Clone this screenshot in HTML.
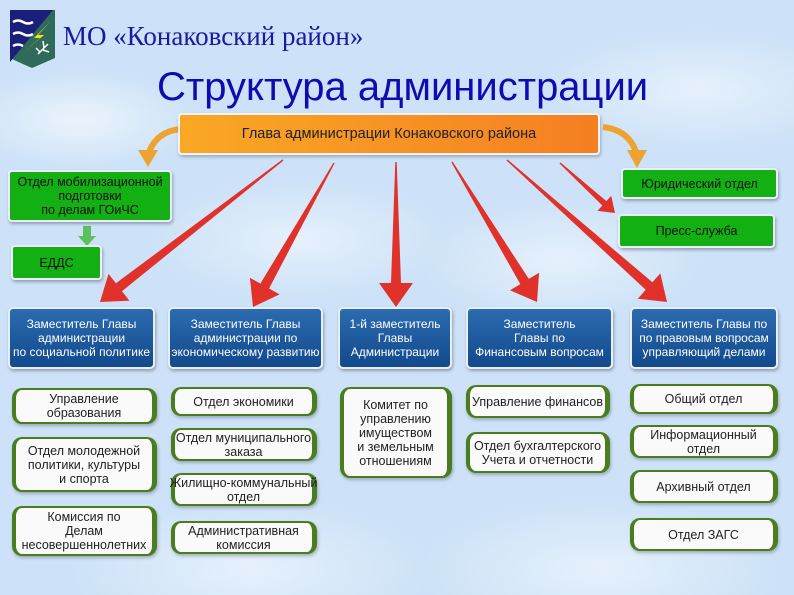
<!DOCTYPE html>
<html><head><meta charset="utf-8"><style>
html,body{margin:0;padding:0}
body{width:794px;height:595px;overflow:hidden;position:relative;font-family:"Liberation Sans",sans-serif;
background:
radial-gradient(ellipse 120px 50px at 80px 120px,rgba(255,255,255,.6),transparent),
radial-gradient(ellipse 150px 60px at 300px 240px,rgba(255,255,255,.5),transparent),
radial-gradient(ellipse 140px 60px at 560px 260px,rgba(255,255,255,.5),transparent),
radial-gradient(ellipse 160px 60px at 700px 90px,rgba(255,255,255,.5),transparent),
radial-gradient(ellipse 180px 70px at 250px 570px,rgba(255,255,255,.5),transparent),
radial-gradient(ellipse 180px 70px at 600px 570px,rgba(255,255,255,.5),transparent),
#cde2f8}
.b{position:absolute;box-sizing:border-box;display:flex;align-items:center;justify-content:center;text-align:center;font-size:12.5px;line-height:14px;white-space:nowrap}
.blue{background:linear-gradient(#2c6bb0,#124a8c);color:#fff;border:2px solid #e8eef6;border-radius:5px;box-shadow:1px 2px 3px rgba(0,0,0,.3);font-size:12px}
.w{background:#fafafa;color:#222;border:2px solid #4a7d1e;border-left-width:4px;border-right-width:5px;border-radius:10px;box-shadow:1px 2px 3px rgba(0,0,0,.25)}
.g{background:#12b012;color:#111;border:2px solid #eef;border-radius:4px;box-shadow:1px 2px 3px rgba(0,0,0,.3);font-size:12.5px}
</style></head><body>
<svg width="794" height="595" style="position:absolute;left:0;top:0">
<g transform="translate(10,10)">
<path d="M0 0H45V48Q36 52 22 58Q8 52 0 48Z" fill="#2f6a5a"/>
<path d="M0 0H43L0 52Z" fill="#1a1f7a"/>
<path d="M3 12q5-3 10 0t10 0 M3 24q5-3 10 0t10 0 M3 36q5-3 10 0" stroke="#fff" stroke-width="2.5" fill="none"/>
<path d="M40 12L24 28 30 28 14 42 34 25 28 25Z" fill="#f2e21a"/>
<path d="M28 44l10-10M33 40l6 2M34 38l-1-7M30 42l-4-4" stroke="#fff" stroke-width="1.5"/>
</g>
<text x="63" y="45" font-family="Liberation Serif,serif" font-size="27" fill="#1a1a9e">МО «Конаковский район»</text>
<text x="157" y="100" font-family="Liberation Sans,sans-serif" font-size="40" fill="#0c0cb0">Структура администрации</text>
<g fill="none" stroke="#eda330" stroke-width="6">
<path d="M180 129Q155 132 148 155"/><path d="M603 127Q630 130 637 155"/>
</g>
<path d="M138 150L158 150 148 167Z" fill="#eda330"/><path d="M627 150L647 150 637 168Z" fill="#eda330"/>
<path d="M83 226h8v10h5l-9 10-9-10h5z" fill="#5cc05c"/>
<g id="arr" fill="#e0322a"></g>
</svg>
<div class="b" style="left:178px;top:113px;width:422px;height:42px;background:linear-gradient(90deg,#f9a825,#f57f22);border:2px solid #f4f4f4;border-radius:4px;color:#222;font-size:14.5px;box-shadow:1px 2px 3px rgba(0,0,0,.25)">Глава администрации Конаковского района</div>
<div class="b g" style="left:8px;top:170px;width:164px;height:52px">Отдел мобилизационной<br>подготовки<br>по делам ГОиЧС</div>
<div class="b g" style="left:11px;top:245px;width:91px;height:35px">ЕДДС</div>
<div class="b g" style="left:621px;top:168px;width:157px;height:31px">Юридический отдел</div>
<div class="b g" style="left:618px;top:214px;width:157px;height:34px">Пресс-служба</div>
<div class="b blue" style="left:8px;top:307px;width:147px;height:62px">Заместитель Главы<br>администрации<br>по социальной политике</div>
<div class="b blue" style="left:168px;top:307px;width:155px;height:62px">Заместитель Главы<br>администрации по<br>экономическому развитию</div>
<div class="b blue" style="left:338px;top:307px;width:114px;height:62px">1-й заместитель<br>Главы<br>Администрации</div>
<div class="b blue" style="left:466px;top:307px;width:147px;height:62px">Заместитель<br>Главы по<br>Финансовым вопросам</div>
<div class="b blue" style="left:630px;top:307px;width:148px;height:62px">Заместитель Главы по<br>по правовым вопросам<br>управляющий делами</div>
<div class="b w" style="left:12px;top:388px;width:145px;height:36px">Управление<br>образования</div>
<div class="b w" style="left:12px;top:437px;width:145px;height:55px">Отдел молодежной<br>политики, культуры<br>и спорта</div>
<div class="b w" style="left:12px;top:506px;width:145px;height:50px">Комиссия по<br>Делам<br>несовершеннолетних</div>
<div class="b w" style="left:171px;top:387px;width:146px;height:29px">Отдел экономики</div>
<div class="b w" style="left:171px;top:428px;width:146px;height:33px">Отдел муниципального<br>заказа</div>
<div class="b w" style="left:171px;top:473px;width:146px;height:33px">Жилищно-коммунальный<br>отдел</div>
<div class="b w" style="left:171px;top:521px;width:146px;height:33px">Административная<br>комиссия</div>
<div class="b w" style="left:340px;top:387px;width:112px;height:91px">Комитет по<br>управлению<br>имуществом<br>и земельным<br>отношениям</div>
<div class="b w" style="left:466px;top:385px;width:144px;height:33px">Управление финансов</div>
<div class="b w" style="left:466px;top:432px;width:144px;height:41px">Отдел бухгалтерского<br>Учета и отчетности</div>
<div class="b w" style="left:630px;top:384px;width:148px;height:30px">Общий отдел</div>
<div class="b w" style="left:630px;top:425px;width:148px;height:33px">Информационный<br>отдел</div>
<div class="b w" style="left:630px;top:470px;width:148px;height:33px">Архивный отдел</div>
<div class="b w" style="left:630px;top:518px;width:148px;height:33px">Отдел ЗАГС</div>
<script>
var A=[[283,160,100,302,1],[334,163,253,307,1],[396,162,396,307,1],[452,162,537,302,1],[507,160,667,302,1],[560,163,615,213,.6]];
var s='';A.forEach(function(a){var x0=a[0],y0=a[1],x1=a[2],y1=a[3],k=a[4];var dx=x1-x0,dy=y1-y0,L=Math.hypot(dx,dy),ux=dx/L,uy=dy/L,px=-uy,py=ux;
var hl=24*k,hw=17*k,sw=5*k,bx=x1-ux*hl,by=y1-uy*hl,nx=x1-ux*(hl-6*k),ny=y1-uy*(hl-6*k);
var p=[[x0-px*.7,y0-py*.7],[bx-px*sw,by-py*sw],[nx-px*hw-ux*6*k,ny-py*hw-uy*6*k],[x1,y1],[nx+px*hw-ux*6*k,ny+py*hw-uy*6*k],[bx+px*sw,by+py*sw],[x0+px*.7,y0+py*.7]];
s+='<polygon points="'+p.map(function(q){return q[0].toFixed(1)+','+q[1].toFixed(1)}).join(' ')+'"/>';});
document.getElementById('arr').innerHTML=s;
</script>
</body></html>
